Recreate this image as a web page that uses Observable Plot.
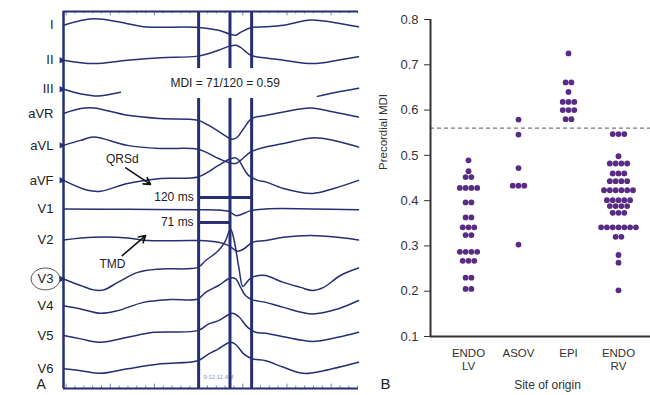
<!DOCTYPE html>
<html><head><meta charset="utf-8">
<script src="https://cdn.jsdelivr.net/npm/d3@7"></script>
<script src="https://cdn.jsdelivr.net/npm/@observablehq/plot@0.6"></script>
<style>
body{margin:0;background:#fff;}
#wrap{position:relative;width:650px;height:395px;overflow:hidden;background:#fff;}
#wrap svg{position:absolute;top:0;}
</style></head><body><div id="wrap"></div>
<script>
// ---------- Panel A: ECG leads (time in ms from QRS onset, amplitude in mm; 10 mm = lead spacing)
const leadNames = ["I","II","III","aVR","aVL","aVF","V1","V2","V3","V4","V5","V6"];
const leadI   = [[-306,0.1],[-238,2.2],[-161,0.6],[-125,-0.4],[-2,-0.6],[45,-1.5],[68,-2.6],[84,-3.1],[95,-2.2],[118,-0.7],[152,-0.4],[192,0.1],[254,1.8],[306,1.0],[362,-0.4]];
const leadII  = [[-306,-1.1],[-238,-2.2],[-161,-1.1],[-86,-0.3],[-2,0.2],[45,2.1],[70,3.4],[84,3.7],[95,3.0],[118,0.5],[152,-0.4],[192,-1.1],[260,-2.2],[315,-1.1],[362,0]];
const leadIIIa = [[-306,-0.4],[-266,-1.9],[-229,-2.6],[-177,-1.4]];
const leadIIIb = [[269,-2.7],[315,-1.3],[362,-0.1]];
const leadAVR = [[-306,1.8],[-267,3.4],[-238,3.6],[-161,1.25],[-86,0.2],[-2,-0.35],[23,-2.0],[45,-3.9],[77,-6.4],[88,-5.7],[102,-3.0],[120,0.2],[152,1.15],[192,2.3],[254,3.6],[306,2.3],[362,0.7]];
const leadAVL = [[-306,1.6],[-267,3.2],[-238,4.3],[-161,1.6],[-86,0.6],[-2,0.35],[45,-2.6],[68,-3.9],[84,-4.2],[95,-3.2],[118,-0.5],[152,1.1],[192,2.2],[258,4.0],[306,3.2],[362,1.1]];
const leadAVF = [[-306,0.4],[-251,-2.8],[-222,-3.1],[-161,-0.6],[-86,1.0],[-2,1.5],[45,5.2],[68,7.1],[84,7.6],[91,6.8],[113,2.0],[134,0.4],[152,-0.1],[192,-2.2],[258,-3.8],[306,-2.2],[362,0.4]];
const leadV1  = [[-306,1.25],[-161,1.1],[-2,1.0],[45,0.9],[68,0.5],[84,-0.9],[95,-0.6],[118,0.7],[152,1.25],[254,1.25],[362,1.0]];
const leadV2  = [[-306,1.3],[-238,2.15],[-161,1.95],[-115,1.1],[-2,1.1],[45,0.55],[68,-0.5],[88,-2.3],[102,-1.6],[122,0.55],[152,1.1],[192,2.15],[254,2.7],[315,2.15],[362,1.3]];
const leadV3  = [[-306,-1.2],[-267,-3.3],[-238,-4.7],[-215,-4.7],[-183,-2.3],[-138,0.9],[-86,2.0],[-2,2.5],[16,4.7],[45,7.9],[61,11.1],[72,14.8],[79,12.1],[91,2.5],[100,-3.65],[106,-2.8],[118,-0.9],[136,-0.1],[152,-0.1],[192,-2.3],[231,-3.9],[258,-4.9],[283,-3.9],[321,-0.1],[362,2.3]];
const leadV4  = [[-306,0.25],[-267,-0.8],[-222,-2.2],[-183,-1.35],[-125,1.3],[-63,2.2],[-2,2.4],[16,4.5],[45,6.7],[72,9.1],[84,8.8],[95,6.1],[106,3.5],[122,2.1],[152,1.3],[192,-0.3],[258,-2.4],[315,-0.8],[362,1.9]];
const leadV5  = [[-306,0.65],[-267,-0.4],[-222,-1.5],[-161,0.1],[-102,1.7],[-2,2.25],[23,4.4],[45,5.45],[77,7.8],[91,6.7],[111,3.3],[129,1.7],[152,1.4],[192,0.3],[258,-1.2],[315,0.1],[362,1.7]];
const leadV6  = [[-306,0],[-267,-0.6],[-222,-1.45],[-161,0],[-86,1.6],[-2,2.6],[23,4.8],[45,6.4],[72,8.5],[84,7.8],[102,4.8],[122,3.2],[152,2.6],[192,0.5],[238,-1.45],[283,-0.6],[362,2.1]];
const leadSegments = [[leadI],[leadII],[leadIIIa,leadIIIb],[leadAVR],[leadAVL],[leadAVF],[leadV1],[leadV2],[leadV3],[leadV4],[leadV5],[leadV6]];
const markedLeads = ["II","III","aVL","aVF","V3"];
const circledLead = "V3";
const qrsd = 120;   // ms
const tmd = 71;     // ms
const stamp = "9:12:11 AM";

// ---------- Panel B: precordial MDI by site of origin
const categories = ["ENDO\nLV","ASOV","EPI","ENDO\nRV"];
const endoLV = [0.489,0.465,0.452,0.452,0.428,0.428,0.428,0.428,0.396,0.396,0.363,0.363,0.341,0.341,0.341,0.324,0.324,0.287,0.287,0.287,0.287,0.267,0.267,0.267,0.230,0.230,0.205,0.205];
const asov   = [0.579,0.546,0.472,0.433,0.433,0.433,0.303];
const epi    = [0.725,0.661,0.661,0.640,0.618,0.618,0.618,0.600,0.600,0.600,0.580,0.580];
const endoRV = [0.547,0.547,0.547,0.498,0.482,0.482,0.482,0.482,0.460,0.460,0.460,0.443,0.443,0.443,0.443,0.423,0.423,0.423,0.423,0.423,0.423,0.401,0.401,0.401,0.401,0.401,0.388,0.388,0.388,0.388,0.373,0.373,0.373,0.341,0.341,0.341,0.341,0.341,0.341,0.341,0.320,0.320,0.280,0.263,0.202];
const threshold = 0.56;
const yTicks = [0.1,0.2,0.3,0.4,0.5,0.6,0.7,0.8];

// ---------- build
const navy = "#252f73";
const purple = "#5a2b85";
const font = "'Liberation Sans', Arial, Helvetica, sans-serif";
const tDomain = [-306, 362];
const vDomain = [-4.5, 116.3];
const barGap = [13.8, 23.4];
const rows = [], labelRows = [];
leadNames.forEach((name, i) => {
  leadSegments[i].forEach((seg, j) => seg.forEach(([t, a]) => rows.push({key: name + "-" + j, t, v: i * 10 - a})));
  labelRows.push({name, v: i * 10 - leadSegments[i][0][0][1]});
});
const intervals = [{label: qrsd + " ms", ms: qrsd, v: 55.1}, {label: tmd + " ms", ms: tmd, v: 63.1}];
const rulerTicks = d3.range(-300, 362, 20);
const ellipseSymbol = {draw(ctx, size) {
  const r = Math.sqrt(size / Math.PI), rx = r * 1.25, ry = r * 0.95, k = 0.5523;
  ctx.moveTo(rx, 0);
  ctx.bezierCurveTo(rx, k * ry, k * rx, ry, 0, ry);
  ctx.bezierCurveTo(-k * rx, ry, -rx, k * ry, -rx, 0);
  ctx.bezierCurveTo(-rx, -k * ry, -k * rx, -ry, 0, -ry);
  ctx.bezierCurveTo(k * rx, -ry, rx, -k * ry, rx, 0);
  ctx.closePath();
}};

const plotA = Plot.plot({
  width: 360, height: 395, marginLeft: 63, marginRight: 2, marginTop: 11, marginBottom: 7,
  x: {domain: tDomain, axis: null},
  y: {domain: vDomain, reverse: true, axis: null},
  style: {fontFamily: font, background: "transparent", overflow: "visible", color: "#222"},
  marks: [
    Plot.ruleX(rulerTicks, {x: d => d, y1: vDomain[0], y2: d => vDomain[0] + (d % 100 === 0 ? 1.4 : 0.8), stroke: "#5a64a0", strokeWidth: 0.8}),
    Plot.ruleX(rulerTicks, {x: d => d, y1: vDomain[1], y2: d => vDomain[1] - (d % 100 === 0 ? 1.4 : 0.8), stroke: "#5a64a0", strokeWidth: 0.8}),
    Plot.text([stamp], {x: 11, y: 112.8, text: d => d, textAnchor: "start", fontSize: 6, fill: "#8a93b8"}),
    Plot.line(rows, {x: "t", y: "v", z: "key", curve: "catmull-rom", stroke: navy, strokeWidth: 1.5}),
    Plot.ruleX([0, tmd, qrsd], {x: d => d, y1: vDomain[0], y2: barGap[0], stroke: navy, strokeWidth: 3}),
    Plot.ruleX([0, tmd, qrsd], {x: d => d, y1: barGap[1], y2: vDomain[1], stroke: navy, strokeWidth: 3}),
    Plot.ruleY(intervals, {y: "v", x1: 0, x2: "ms", stroke: navy, strokeWidth: 3}),
    Plot.text(intervals, {x: 0, y: "v", text: "label", dx: -5, textAnchor: "end", fontSize: 12, fill: "#222"}),
    Plot.text([`MDI = ${tmd}/${qrsd} = ${(tmd / qrsd).toFixed(2)}`], {x: qrsd / 2, y: (barGap[0] + barGap[1]) / 2, text: d => d, fontSize: 12, fill: "#222"}),
    Plot.text(["QRSd"], {x: -173, y: 42.8, text: d => d, fontSize: 12, fill: "#222"}),
    Plot.arrow([0], {x1: -165, y1: 45.6, x2: -109, y2: 50.9, stroke: "#111", strokeWidth: 1.6, headLength: 7}),
    Plot.text(["TMD"], {x: -195, y: 76.6, text: d => d, fontSize: 12, fill: "#222"}),
    Plot.arrow([0], {x1: -173, y1: 73.7, x2: -120, y2: 67.3, stroke: "#111", strokeWidth: 1.6, headLength: 7}),
    Plot.ruleX([tDomain[0]], {y1: vDomain[0], y2: vDomain[1], stroke: navy, strokeWidth: 2.5}),
    Plot.ruleY([vDomain[0], vDomain[1]], {x1: tDomain[0], x2: tDomain[1], stroke: navy, strokeWidth: 2}),
    Plot.text(labelRows, {x: tDomain[0], y: "v", text: "name", dx: -10, textAnchor: "end", fontSize: 13, fill: "#222"}),
    Plot.dot(labelRows.filter(d => markedLeads.includes(d.name)), {x: tDomain[0], y: "v", symbol: "triangle", rotate: 90, r: 2.4, fill: navy, dx: -2}),
    Plot.dot(labelRows.filter(d => d.name === circledLead), {x: tDomain[0], y: "v", dx: -18, symbol: ellipseSymbol, r: 11.5, stroke: "#555", fill: "none", strokeWidth: 1}),
    Plot.text(["A"], {frameAnchor: "bottom-left", dx: -27, dy: 0, text: d => d, fontSize: 14, fill: "#222"})
  ]
});

const groups = [endoLV, asov, epi, endoRV];
const dots = [];
groups.forEach((vals, ci) => {
  for (const [v, arr] of d3.group(vals, d => d)) arr.forEach((_, k) => dots.push({ci, v, k: k - (arr.length - 1) / 2}));
});
const xDomainB = [-0.76, 3.64];
const plotB = Plot.plot({
  width: 320, height: 395, marginLeft: 100, marginRight: 0, marginTop: 19, marginBottom: 59,
  x: {type: "linear", domain: xDomainB, axis: null},
  y: {domain: [0.1, 0.8], axis: null},
  style: {fontFamily: font, background: "transparent", overflow: "visible", color: "#333"},
  marks: [
    Plot.ruleY([threshold], {stroke: "#7a7a7a", strokeDasharray: "4,3", strokeWidth: 1.3}),
    Plot.dot(dots, {x: d => d.ci + d.k * 0.116, y: "v", r: 2.9, fill: purple}),
    Plot.axisY({ticks: yTicks, tickSize: 6, tickPadding: 6, fontSize: 13, tickFormat: d3.format(".1f"), label: null}),
    Plot.ruleX([xDomainB[0]], {stroke: "#333", strokeWidth: 2}),
    Plot.ruleY([0.1], {stroke: "#333", strokeWidth: 2}),
    Plot.text(categories, {x: (d, i) => i, y: 0.1, text: d => d, lineAnchor: "top", dy: 12, fontSize: 11.5, lineHeight: 1.1, fill: "#333"}),
    Plot.text(["Precordial MDI"], {frameAnchor: "left", rotate: -90, dx: -47, dy: -8, text: d => d, fontSize: 11.5, fill: "#333"}),
    Plot.text(["Site of origin"], {frameAnchor: "bottom", dx: 7, dy: 52, text: d => d, fontSize: 12, fill: "#333"}),
    Plot.text(["B"], {frameAnchor: "bottom-left", dx: -50, dy: 52, text: d => d, fontSize: 15, fill: "#222"})
  ]
});

const wrap = document.getElementById("wrap");
plotA.style.left = "0px";
plotB.style.left = "330px";
wrap.appendChild(plotB);
wrap.appendChild(plotA);
</script>
</body></html>
